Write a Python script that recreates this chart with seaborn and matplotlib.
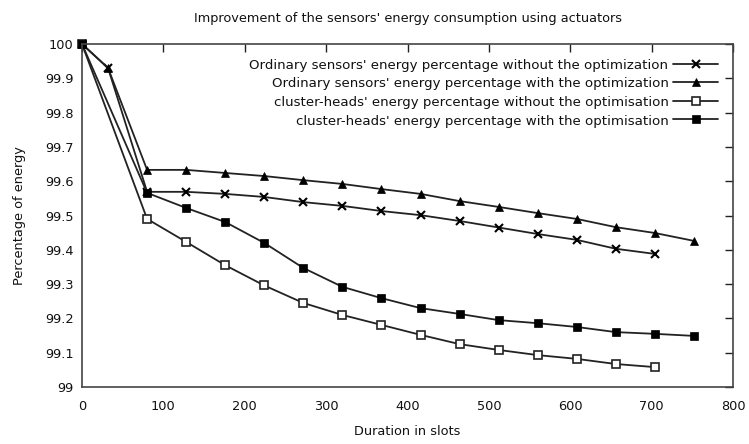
import matplotlib
matplotlib.use("Agg")
import matplotlib.pyplot as plt
import seaborn as sns
import pandas as pd

x_os = [0, 32, 80, 128, 176, 224, 272, 320, 368, 416, 464, 512, 560, 608, 656, 704]
os_without = [100, 99.93, 99.569, 99.569, 99.563, 99.554, 99.539, 99.528, 99.513,
              99.501, 99.484, 99.465, 99.446, 99.429, 99.403, 99.388]
x_os_opt = [0, 32, 80, 128, 176, 224, 272, 320, 368, 416, 464, 512, 560, 608, 656, 704, 752]
os_with = [100, 99.93, 99.633, 99.633, 99.624, 99.615, 99.603, 99.592, 99.577,
           99.563, 99.542, 99.525, 99.507, 99.49, 99.466, 99.449, 99.426]
x_ch = [0, 80, 128, 176, 224, 272, 320, 368, 416, 464, 512, 560, 608, 656, 704]
ch_without = [100, 99.49, 99.423, 99.355, 99.296, 99.245, 99.21, 99.181, 99.152,
              99.125, 99.108, 99.093, 99.082, 99.067, 99.058]
x_ch_opt = [0, 80, 128, 176, 224, 272, 320, 368, 416, 464, 512, 560, 608, 656, 704, 752]
ch_with = [100, 99.566, 99.522, 99.481, 99.42, 99.347, 99.292, 99.259, 99.23,
           99.213, 99.195, 99.186, 99.175, 99.16, 99.155, 99.149]

labels = ["Ordinary sensors' energy percentage without the optimization",
          "Ordinary sensors' energy percentage with the optimization",
          "cluster-heads' energy percentage without the optimisation",
          "cluster-heads' energy percentage with the optimisation"]
title = "Improvement of the sensors' energy consumption using actuators"
xlabel = "Duration in slots"
ylabel = "Percentage of energy"
xticks = [0, 100, 200, 300, 400, 500, 600, 700, 800]
yticks = [99, 99.1, 99.2, 99.3, 99.4, 99.5, 99.6, 99.7, 99.8, 99.9, 100]
ytick_labels = ["99", "99.1", "99.2", "99.3", "99.4", "99.5", "99.6", "99.7",
                "99.8", "99.9", "100"]

sns.set_style("white")
plt.rcParams['font.family'] = ['DejaVu Sans']

fig = plt.figure(figsize=(7.49, 4.44), dpi=100)
ax = fig.add_axes([82/749, 1-387/444, (733-82)/749, (387-44)/444])

series = [
    (x_os, os_without, labels[0], dict(marker='x', markersize=6, markeredgewidth=1.5,
                                       markerfacecolor='black', markeredgecolor='black')),
    (x_os_opt, os_with, labels[1], dict(marker='^', markersize=6, markeredgewidth=0.5,
                                        markerfacecolor='black', markeredgecolor='black')),
    (x_ch, ch_without, labels[2], dict(marker='s', markersize=5.5, markeredgewidth=1.2,
                                       markerfacecolor='white', markeredgecolor='#222222')),
    (x_ch_opt, ch_with, labels[3], dict(marker='s', markersize=5.8, markeredgewidth=0.5,
                                        markerfacecolor='black', markeredgecolor='black')),
]
for xs, ys, lab, kw in series:
    df = pd.DataFrame({"x": xs, "y": ys})
    sns.lineplot(data=df, x="x", y="y", ax=ax, color='#222222', linewidth=1.3,
                 label=lab, clip_on=False, **kw)

ax.set_xlim(0, 800)
ax.set_ylim(99, 100)
ax.set_xticks(xticks)
ax.set_yticks(yticks)
ax.set_xticklabels([str(t) for t in xticks])
ax.set_yticklabels(ytick_labels)
ax.tick_params(direction='in', length=6, width=1, top=True, right=True,
               labelsize=9.3, colors='#222222', labelcolor='#111111', pad=6)
ax.tick_params(axis='x', pad=9)
for s in ax.spines.values():
    s.set_visible(True)
    s.set_color('#444444')
    s.set_linewidth(1.2)

ax.set_title(title, fontsize=9.3, pad=16, color='#111111')
ax.set_xlabel(xlabel, fontsize=9.3, labelpad=9, color='#111111')
ax.set_ylabel(ylabel, fontsize=9.3, labelpad=14, color='#111111')

leg = ax.legend(loc='upper right', bbox_to_anchor=(0.99, 0.98), frameon=False,
                markerfirst=False, fontsize=9.6, handlelength=3.4, labelspacing=0.42,
                handletextpad=0.35, borderaxespad=0.2, alignment='right')
for t in leg.get_texts():
    t.set_color('#111111')
vp = leg._legend_box._children[-1]._children[0]
for c in vp._children:
    c.align = 'right'

fig.savefig("out.png", dpi=100)
